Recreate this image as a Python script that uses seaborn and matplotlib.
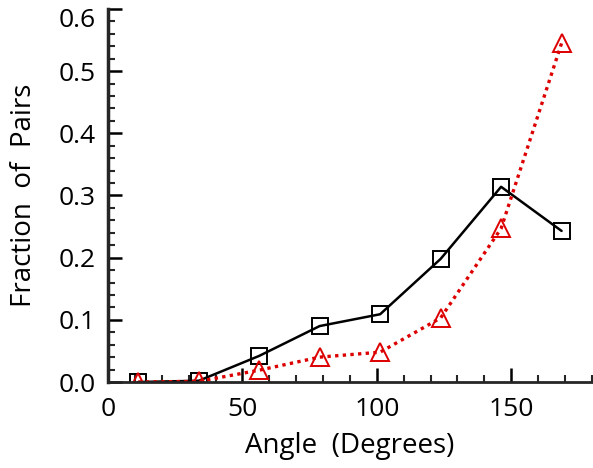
import matplotlib
matplotlib.use("Agg")
import matplotlib.pyplot as plt
import matplotlib.transforms as mtransforms
import seaborn as sns
import pandas as pd
from matplotlib.ticker import MultipleLocator, FormatStrFormatter

angles = [11.25, 33.75, 56.25, 78.75, 101.25, 123.75, 146.25, 168.75]
black_vals = [0.0, 0.002, 0.042, 0.090, 0.109, 0.198, 0.314, 0.243]
red_vals = [0.0, 0.001, 0.019, 0.040, 0.048, 0.103, 0.247, 0.545]

sns.set_style("ticks")
plt.rcParams['font.family'] = ['Open Sans', 'DejaVu Sans']
plt.rcParams['text.color'] = 'black'
plt.rcParams['axes.labelcolor'] = 'black'

fig = plt.figure(figsize=(5.93, 4.68), dpi=100)
ax = fig.add_axes([108/593, 86/468, 1 - 108/593 - 0.002, (382-9)/468])

df_b = pd.DataFrame({"angle": angles, "frac": black_vals})
df_r = pd.DataFrame({"angle": angles, "frac": red_vals})

sns.lineplot(data=df_b, x="angle", y="frac", ax=ax, color="black", lw=1.8,
             marker="s", markersize=12, markerfacecolor="none",
             markeredgecolor="black", markeredgewidth=1.4)
sns.lineplot(data=df_r, x="angle", y="frac", ax=ax, color="#dd0000", lw=2.4,
             linestyle=(0, (1, 1.3)), marker="^", markersize=13,
             markerfacecolor="none", markeredgecolor="#dd0000", markeredgewidth=1.4)

ax.set_xlim(0, 180)
ax.set_ylim(0, 0.6)
ax.xaxis.set_major_locator(MultipleLocator(50))
ax.xaxis.set_minor_locator(MultipleLocator(10))
ax.yaxis.set_major_locator(MultipleLocator(0.1))
ax.yaxis.set_minor_locator(MultipleLocator(0.02))
ax.yaxis.set_major_formatter(FormatStrFormatter("%.1f"))

for s in ["top", "right"]:
    ax.spines[s].set_visible(False)
ax.spines["left"].set_linewidth(2.5)
ax.spines["bottom"].set_linewidth(2.0)

ax.tick_params(which="major", direction="in", length=10, width=1.8,
               labelsize=19, colors="black", labelcolor="black", pad=9)
ax.tick_params(axis="x", which="major", pad=11)
ax.tick_params(which="minor", direction="in", length=5, width=1.5)

fig.canvas.draw()
for lab in ax.get_yticklabels():
    if lab.get_text() == "0.6":
        lab.set_transform(lab.get_transform() +
                          mtransforms.ScaledTranslation(0, -9/100, fig.dpi_scale_trans))

ax.set_xlabel("Angle  (Degrees)", fontsize=20, labelpad=7, color="black")
ax.set_ylabel("Fraction  of  Pairs", fontsize=20, labelpad=15, color="black")

fig.savefig("out.png", dpi=100)
